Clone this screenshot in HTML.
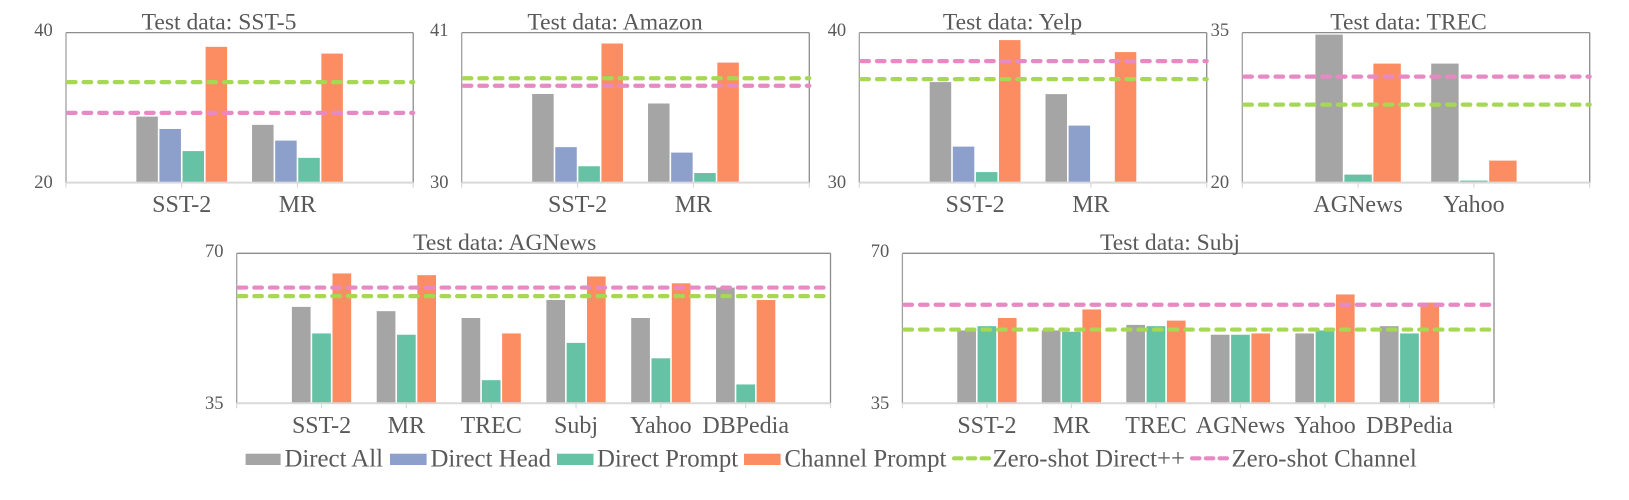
<!DOCTYPE html>
<html lang="en">
<head>
<meta charset="utf-8">
<title>Test data accuracy charts</title>
<style>
html,body{margin:0;padding:0;background:#fff;}
body{width:1629px;height:500px;overflow:hidden;}
svg{display:block;}
text{font-family:"Liberation Serif",serif;fill:#595959;}
.title{font-size:23.6px;text-anchor:middle;}
.legend-label{font-size:24.8px;}
</style>
</head>
<body>
<svg id="chart" width="1629" height="500" viewBox="0 0 1629 500" xmlns="http://www.w3.org/2000/svg">
  <rect x="0" y="0" width="1629" height="500" fill="#ffffff"/>
  <g id="panels"></g>
  <text class="title" x="219" y="29.5">Test data: SST-5</text>
  <text class="title" x="615" y="29.5">Test data: Amazon</text>
  <text class="title" x="1012.5" y="29.5">Test data: Yelp</text>
  <text class="title" x="1408.5" y="29.5">Test data: TREC</text>
  <text class="title" x="504.7" y="250">Test data: AGNews</text>
  <text class="title" x="1170" y="250">Test data: Subj</text>
  <g>
    <g>
      <rect x="245.6" y="453.7" width="35" height="11.3" fill="#a5a5a5"/>
      <text class="legend-label" x="284.5" y="466.5">Direct All</text>
    </g>
    <g>
      <rect x="390" y="453.7" width="36.6" height="11.3" fill="#8da0cb"/>
      <text class="legend-label" x="430.5" y="466.5">Direct Head</text>
    </g>
    <g>
      <rect x="557" y="453.7" width="36.5" height="11.3" fill="#66c2a5"/>
      <text class="legend-label" x="597" y="466.5">Direct Prompt</text>
    </g>
    <g>
      <rect x="744" y="453.7" width="36.6" height="11.3" fill="#fc8d62"/>
      <text class="legend-label" x="784.5" y="466.5">Channel Prompt</text>
    </g>
    <g>
      <line x1="954" y1="458.3" x2="989" y2="458.3" stroke="#a6d854" stroke-width="4.2" stroke-linecap="round" stroke-dasharray="7.5 6.3"/>
      <text class="legend-label" x="992.5" y="466.5">Zero-shot Direct++</text>
    </g>
    <g>
      <line x1="1192" y1="458.3" x2="1227" y2="458.3" stroke="#e78ac3" stroke-width="4.2" stroke-linecap="round" stroke-dasharray="7.5 6.3"/>
      <text class="legend-label" x="1231.5" y="466.5">Zero-shot Channel</text>
    </g>
  </g>
</svg>
<script>
// ---- Data ----
const sst5Categories = ["SST-2", "MR"];
const sst5Ticks = [20, 40];
const sst5DirectAll = [28.8, 27.7];
const sst5DirectHead = [27.15, 25.6];
const sst5DirectPrompt = [24.2, 23.3];
const sst5ChannelPrompt = [38.1, 37.2];
const sst5ZeroShot = [33.4, 29.3];

const amazonCategories = ["SST-2", "MR"];
const amazonTicks = [30, 41];
const amazonDirectAll = [36.5, 35.8];
const amazonDirectHead = [32.6, 32.2];
const amazonDirectPrompt = [31.2, 30.7];
const amazonChannelPrompt = [40.2, 38.8];
const amazonZeroShot = [37.65, 37.1];

const yelpCategories = ["SST-2", "MR"];
const yelpTicks = [30, 40];
const yelpDirectAll = [36.7, 35.9];
const yelpDirectHead = [32.4, 33.8];
const yelpDirectPrompt = [30.7, 30.05];
const yelpChannelPrompt = [39.5, 38.7];
const yelpZeroShot = [36.9, 38.1];

const trecCategories = ["AGNews", "Yahoo"];
const trecTicks = [20, 35];
const trecDirectAll = [34.8, 31.9];
const trecDirectPrompt = [20.8, 20.2];
const trecChannelPrompt = [31.9, 22.2];
const trecZeroShot = [27.8, 30.6];

const agnewsCategories = ["SST-2", "MR", "TREC", "Subj", "Yahoo", "DBPedia"];
const agnewsTicks = [35, 70];
const agnewsDirectAll = [57.5, 56.5, 54.9, 59.1, 54.9, 62];
const agnewsDirectPrompt = [51.3, 51, 40.4, 49.1, 45.5, 39.4];
const agnewsChannelPrompt = [65.3, 64.9, 51.3, 64.6, 63, 59.1];
const agnewsZeroShot = [60, 62];

const subjCategories = ["SST-2", "MR", "TREC", "AGNews", "Yahoo", "DBPedia"];
const subjTicks = [35, 70];
const subjDirectAll = [52, 52, 53.3, 51, 51.3, 53];
const subjDirectPrompt = [53, 51.7, 53, 51, 52, 51.3];
const subjChannelPrompt = [54.9, 56.9, 54.3, 51.3, 60.4, 58.5];
const subjZeroShot = [52.2, 58];

// ---- Styling and layout ----
const SVG_NS = "http://www.w3.org/2000/svg";
const COLORS = {all: "#a5a5a5", head: "#8da0cb", prompt: "#66c2a5", channel: "#fc8d62", zeroDirect: "#a6d854", zeroChannel: "#e78ac3"};
const panels = [
  {id: "sst5", left: 66, right: 413.2, top: 32.6, bottom: 182.6, pitch: 23.1, cats: sst5Categories, ticks: sst5Ticks, zero: sst5ZeroShot,
   series: [["direct-all", COLORS.all, sst5DirectAll], ["direct-head", COLORS.head, sst5DirectHead], ["direct-prompt", COLORS.prompt, sst5DirectPrompt], ["channel-prompt", COLORS.channel, sst5ChannelPrompt]]},
  {id: "amazon", left: 461.7, right: 809.3, top: 32.6, bottom: 182.6, pitch: 23.1, cats: amazonCategories, ticks: amazonTicks, zero: amazonZeroShot,
   series: [["direct-all", COLORS.all, amazonDirectAll], ["direct-head", COLORS.head, amazonDirectHead], ["direct-prompt", COLORS.prompt, amazonDirectPrompt], ["channel-prompt", COLORS.channel, amazonChannelPrompt]]},
  {id: "yelp", left: 859.3, right: 1206.7, top: 32.6, bottom: 182.6, pitch: 23.1, cats: yelpCategories, ticks: yelpTicks, zero: yelpZeroShot,
   series: [["direct-all", COLORS.all, yelpDirectAll], ["direct-head", COLORS.head, yelpDirectHead], ["direct-prompt", COLORS.prompt, yelpDirectPrompt], ["channel-prompt", COLORS.channel, yelpChannelPrompt]]},
  {id: "trec", left: 1242.3, right: 1589.7, top: 32.6, bottom: 182.6, pitch: 29, cats: trecCategories, ticks: trecTicks, zero: trecZeroShot,
   series: [["direct-all", COLORS.all, trecDirectAll], ["direct-prompt", COLORS.prompt, trecDirectPrompt], ["channel-prompt", COLORS.channel, trecChannelPrompt]]},
  {id: "agnews", left: 236.7, right: 830.5, top: 253.3, bottom: 403.3, pitch: 20.3, cats: agnewsCategories, ticks: agnewsTicks, zero: agnewsZeroShot,
   series: [["direct-all", COLORS.all, agnewsDirectAll], ["direct-prompt", COLORS.prompt, agnewsDirectPrompt], ["channel-prompt", COLORS.channel, agnewsChannelPrompt]]},
  {id: "subj", left: 902.4, right: 1494, top: 253.3, bottom: 403.3, pitch: 20.3, cats: subjCategories, ticks: subjTicks, zero: subjZeroShot,
   series: [["direct-all", COLORS.all, subjDirectAll], ["direct-prompt", COLORS.prompt, subjDirectPrompt], ["channel-prompt", COLORS.channel, subjChannelPrompt]]}
];

function make(tag, attrs, parent) {
  const el = document.createElementNS(SVG_NS, tag);
  Object.keys(attrs).forEach(function (k) { el.setAttribute(k, attrs[k]); });
  parent.appendChild(el);
  return el;
}
function xAxis(p) {
  const band = (p.right - p.left) / (p.cats.length + 1);
  return function (i) { return p.left + band * i; };
}
function yAxis(p) {
  const lo = p.ticks[0], hi = p.ticks[p.ticks.length - 1];
  return function (v) { return p.bottom - (v - lo) / (hi - lo) * (p.bottom - p.top); };
}

const root = document.getElementById("panels");
panels.forEach(function (p) {
  const x = xAxis(p), y = yAxis(p);
  const g = make("g", {}, root);
  
  

  // bars
  const n = p.series.length;
  p.series.forEach(function (s, si) {
    s[2].forEach(function (v, ci) {
      const cx = x(ci + 1) - n * p.pitch / 2 + si * p.pitch + p.pitch / 2;
      const w = p.pitch - 1.6;
      const bar = make("rect", {x: cx - w / 2, y: y(v), width: w, height: p.bottom - y(v), fill: s[1]}, g);
      
      
    });
  });

  // frame
  const frameTop = make("line", {x1: p.left, x2: p.right, y1: p.top, y2: p.top, stroke: "#8c8c8c", "stroke-width": 1.3}, g);
  
  
  const frameLeft = make("line", {x1: p.left, x2: p.left, y1: p.top, y2: p.bottom, stroke: "#a0a0a0", "stroke-width": 1.3}, g);
  
  
  const frameRight = make("line", {x1: p.right, x2: p.right, y1: p.top, y2: p.bottom, stroke: "#8c8c8c", "stroke-width": 1.3}, g);
  
  
  const axisLine = make("line", {x1: p.left, x2: p.right, y1: p.bottom, y2: p.bottom, stroke: "#d9d9d9", "stroke-width": 2}, g);
  
  

  // x ticks and labels
  for (let i = 0; i <= p.cats.length + 1; i++) {
    const tick = make("line", {x1: x(i), x2: x(i), y1: p.bottom, y2: p.bottom + 5, stroke: "#d9d9d9", "stroke-width": 1.2}, g);
    
    
  }
  p.cats.forEach(function (c, i) {
    const t = make("text", {x: x(i + 1), y: p.bottom + 29.5, "text-anchor": "middle", "font-size": 24}, g);
    
    
    t.textContent = c;
  });

  // y tick labels
  p.ticks.forEach(function (v, i) {
    const t = make("text", {x: p.left - 13.2, y: y(v) + (i === 0 ? 5.5 : 3.5), "text-anchor": "end", "font-size": 18.5}, g);
    
    
    t.textContent = v;
  });

  // zero-shot reference lines
  [["zero-shot-direct", COLORS.zeroDirect, p.zero[0]], ["zero-shot-channel", COLORS.zeroChannel, p.zero[1]]].forEach(function (r) {
    const line = make("line", {x1: p.left + 2, x2: p.right, y1: y(r[2]), y2: y(r[2]), stroke: r[1], "stroke-width": 4.2, "stroke-linecap": "round", "stroke-dasharray": "7.6 8"}, g);
    
    
  });
});
</script>
</body>
</html>
